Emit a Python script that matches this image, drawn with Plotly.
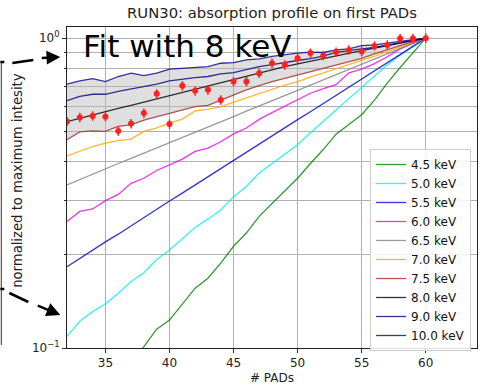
import plotly.graph_objects as go

pads = list(range(32, 61))

energies = ["4.5 keV", "5.0 keV", "5.5 keV", "6.0 keV", "6.5 keV",
            "7.0 keV", "7.5 keV", "8.0 keV", "9.0 keV", "10.0 keV"]

e45 = [0.052, 0.058, 0.065, 0.071, 0.079, 0.089, 0.101, 0.115, 0.123, 0.138,
       0.156, 0.168, 0.188, 0.213, 0.235, 0.266, 0.292, 0.321, 0.353, 0.394,
       0.437, 0.490, 0.525, 0.566, 0.631, 0.716, 0.804, 0.895, 1.000]
e50 = [0.109, 0.122, 0.131, 0.139, 0.150, 0.164, 0.175, 0.193, 0.207, 0.226,
       0.245, 0.261, 0.279, 0.308, 0.332, 0.367, 0.394, 0.422, 0.453, 0.495,
       0.537, 0.586, 0.638, 0.692, 0.755, 0.820, 0.881, 0.940, 1.000]
e55 = [0.183, 0.195, 0.207, 0.220, 0.233, 0.248, 0.264, 0.280, 0.298, 0.316,
       0.336, 0.357, 0.379, 0.403, 0.429, 0.455, 0.483, 0.513, 0.546, 0.579,
       0.615, 0.655, 0.695, 0.738, 0.785, 0.834, 0.885, 0.942, 1.000]
e60 = [0.256, 0.276, 0.281, 0.299, 0.313, 0.340, 0.353, 0.374, 0.390, 0.407,
       0.431, 0.442, 0.463, 0.491, 0.513, 0.547, 0.575, 0.603, 0.631, 0.664,
       0.687, 0.708, 0.773, 0.794, 0.828, 0.871, 0.923, 0.959, 1.000]
e65 = [0.336, 0.350, 0.364, 0.378, 0.394, 0.409, 0.425, 0.442, 0.459, 0.478,
       0.497, 0.516, 0.537, 0.558, 0.581, 0.603, 0.627, 0.652, 0.678, 0.705,
       0.733, 0.762, 0.792, 0.824, 0.855, 0.889, 0.925, 0.962, 1.000]
e70 = [0.417, 0.431, 0.447, 0.458, 0.467, 0.472, 0.500, 0.513, 0.532, 0.548,
       0.582, 0.590, 0.600, 0.622, 0.643, 0.664, 0.684, 0.705, 0.724, 0.748,
       0.771, 0.796, 0.820, 0.847, 0.875, 0.904, 0.935, 0.966, 1.000]
e75 = [0.470, 0.498, 0.502, 0.500, 0.519, 0.525, 0.544, 0.558, 0.573, 0.587,
       0.601, 0.607, 0.632, 0.656, 0.681, 0.703, 0.724, 0.741, 0.760, 0.780,
       0.800, 0.820, 0.839, 0.861, 0.889, 0.918, 0.946, 0.973, 1.000]
e80 = [0.538, 0.552, 0.565, 0.578, 0.593, 0.607, 0.622, 0.637, 0.653, 0.668,
       0.685, 0.702, 0.719, 0.736, 0.755, 0.773, 0.791, 0.809, 0.826, 0.843,
       0.861, 0.879, 0.895, 0.912, 0.929, 0.946, 0.964, 0.982, 1.000]
e90 = [0.628, 0.649, 0.659, 0.659, 0.673, 0.685, 0.698, 0.711, 0.728, 0.738,
       0.746, 0.752, 0.767, 0.774, 0.791, 0.809, 0.822, 0.836, 0.847, 0.859,
       0.875, 0.899, 0.912, 0.923, 0.933, 0.951, 0.966, 0.984, 1.000]
e100 = [0.711, 0.728, 0.740, 0.724, 0.752, 0.771, 0.757, 0.771, 0.794, 0.800,
        0.804, 0.809, 0.830, 0.834, 0.851, 0.857, 0.873, 0.885, 0.895, 0.902,
        0.899, 0.916, 0.923, 0.946, 0.951, 0.964, 0.979, 0.989, 1.000]

data_vals = [0.538, 0.555, 0.561, 0.558, 0.502, 0.530, 0.573, 0.661, 0.528, 0.702,
             0.676, 0.681, 0.632, 0.724, 0.724, 0.771, 0.830, 0.820, 0.861, 0.895,
             0.879, 0.902, 0.916, 0.906, 0.944, 0.951, 0.998, 0.998, 1.000]

series = [e45, e50, e55, e60, e65, e70, e75, e80, e90, e100]
colors = ["#008000", "#00f0f0", "#0000cd", "#ee00ee", "#808080",
          "#ffa500", "#a52a2a", "#000000", "#000080", "#00008b"]

fig = go.Figure()

# shaded band between 7.5 keV and 10 keV curves
fig.add_trace(go.Scatter(x=pads, y=e75, mode="lines", line=dict(width=0),
                         showlegend=False, hoverinfo="skip"))
fig.add_trace(go.Scatter(x=pads, y=e100, mode="lines", line=dict(width=0),
                         fill="tonexty", fillcolor="rgba(185,185,185,0.45)",
                         showlegend=False, hoverinfo="skip"))

for name, vals, col in zip(energies, series, colors):
    fig.add_trace(go.Scatter(x=pads, y=vals, mode="lines", name=name,
                             line=dict(color=col, width=1.3), opacity=0.8))

fig.add_trace(go.Scatter(x=pads, y=data_vals, mode="markers", showlegend=False,
                         marker=dict(color="#ff2020", size=6, symbol="circle"),
                         error_y=dict(type="percent", value=3.5, color="#ff2020",
                                      thickness=1.5, width=0)))

L, R, T, B = 66.7, 6, 27, 37
W, H = 483, 385
pw, ph = W - L - R, H - T - B

def px2paper(x, y):
    return (x - L) / pw, (H - B - y) / ph

font = "DejaVu Sans"

fig.update_layout(
    width=W, height=H,
    margin=dict(l=L, r=R, t=T, b=B),
    plot_bgcolor="white", paper_bgcolor="white",
    font=dict(family=font, size=12, color="#111"),
    title=dict(text="RUN30: absorption profile on first PADs", x=0.5, xref="paper",
               xanchor="center", y=1 - 13 / H, yanchor="middle",
               font=dict(size=14.8, family=font, color="#222")),
    showlegend=True,
    legend=dict(x=px2paper(370, 0)[0], y=px2paper(0, 149)[1], xanchor="left", yanchor="top",
                bgcolor="rgba(255,255,255,0.85)", bordercolor="#cccccc", borderwidth=1,
                font=dict(size=12, family=font, color="#111"),
                traceorder="normal", itemwidth=30),
)

fig.update_xaxes(range=[32, 64], tickvals=[35, 40, 45, 50, 55, 60],
                 showgrid=True, gridcolor="#b0b0b0", gridwidth=0.8,
                 ticks="outside", ticklen=4, tickcolor="#333",
                 showline=True, linecolor="#222", linewidth=1, mirror=True,
                 zeroline=False, tickfont=dict(size=12, family=font, color="#222"))

fig.update_yaxes(type="log", range=[-1, 0.036], tickvals=[0.1, 1],
                 ticktext=["10<sup>\u22121</sup>", "10<sup>0</sup>"],
                 showgrid=True, gridcolor="#b0b0b0", gridwidth=0.8,
                 ticks="outside", ticklen=4, tickcolor="#333",
                 minor=dict(tickvals=[0.2, 0.3, 0.4, 0.5, 0.6, 0.7, 0.8, 0.9],
                            showgrid=True, gridcolor="#b0b0b0", gridwidth=0.8,
                            ticks="outside", ticklen=2, tickcolor="#333"),
                 showline=True, linecolor="#222", linewidth=1, mirror=True,
                 zeroline=False, tickfont=dict(size=12, family=font, color="#222"))

ann = []
x, y = px2paper(17, 180.5)
ann.append(dict(text="normalized to maximum intesity", x=x, y=y, xref="paper", yref="paper",
                textangle=-90, showarrow=False, font=dict(size=13.2, family=font, color="#222"),
                xanchor="center", yanchor="middle"))
x, y = px2paper(271.5, 378)
ann.append(dict(text="# PADs", x=x, y=y, xref="paper", yref="paper", showarrow=False,
                font=dict(size=12, family=font, color="#222"), xanchor="center", yanchor="middle"))
x, y = px2paper(81, 46)
ann.append(dict(text="Fit with 8 keV", x=x, y=y, xref="paper", yref="paper", showarrow=False,
                font=dict(size=31, family=font, color="black"), xanchor="left", yanchor="middle"))
# arrow heads (solid last segment)
x, y = px2paper(60, 57)
ann.append(dict(text="", x=x, y=y, xref="paper", yref="paper", showarrow=True,
                ax=-20, ay=1, arrowhead=2, arrowsize=1.1, arrowwidth=2.5, arrowcolor="black"))
x, y = px2paper(60, 315)
ann.append(dict(text="", x=x, y=y, xref="paper", yref="paper", showarrow=True,
                ax=-24, ay=-10, arrowhead=2, arrowsize=1.1, arrowwidth=2.5, arrowcolor="black"))
fig.update_layout(annotations=ann)

shapes = []
def seg(x0, y0, x1, y1, w=2.5, col="black"):
    a, b = px2paper(x0, y0)
    c, d = px2paper(x1, y1)
    shapes.append(dict(type="line", xref="paper", yref="paper", x0=a, y0=b, x1=c, y1=d,
                       line=dict(color=col, width=w)))
seg(1, 62, 1, 345, w=1.2, col="#555555")
seg(0, 62, 4, 62)
seg(12, 63, 33, 60)
seg(0, 289, 4, 289)
seg(9, 293, 28, 302)
fig.update_layout(shapes=shapes)

fig.write_html("out.html")
